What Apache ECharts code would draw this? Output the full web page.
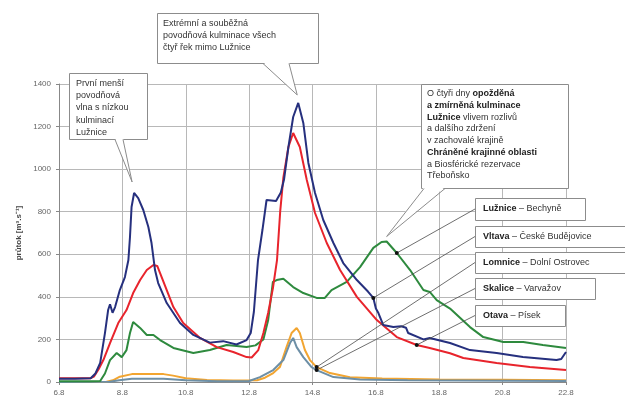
<!DOCTYPE html>
<html><head><meta charset="utf-8">
<script src="https://cdn.jsdelivr.net/npm/echarts@6/dist/echarts.min.js"></script>
<style>html,body{margin:0;padding:0;background:#fff}#c{width:625px;height:401px}</style>
</head><body><div id="c"></div>
<script>
// ---- data (day of August, discharge m3/s) ----
const xTickLabels = ['6.8','8.8','10.8','12.8','14.8','16.8','18.8','20.8','22.8'];
const yTicks = [0,200,400,600,800,1000,1200,1400];

const luznice = [[6.0,3],[7.0,3],[7.3,5],[7.45,40],[7.61,103],[7.82,136],[7.98,117],[8.13,150],[8.24,230],[8.34,282],[8.56,254],[8.77,221],[8.98,221],[9.19,197],[9.61,160],[10.24,136],[10.76,150],[11.29,174],[11.92,164],[12.2,172],[12.45,200],[12.6,290],[12.75,470],[12.87,479],[13.08,485],[13.39,446],[13.71,418],[14.13,395],[14.39,395],[14.6,432],[15.08,470],[15.5,540],[15.92,630],[16.18,658],[16.34,660],[16.66,606],[17.08,526],[17.5,432],[17.7,423],[17.92,385],[18.34,345],[18.97,258],[19.39,211],[20.02,188],[20.65,188],[21.27,174],[22.0,160]];

const vltava = [[6.0,15],[6.5,15],[7.0,18],[7.15,40],[7.3,90],[7.45,230],[7.55,338],[7.61,365],[7.69,325],[7.77,352],[7.92,432],[8.08,493],[8.19,573],[8.24,681],[8.29,822],[8.37,888],[8.5,864],[8.66,808],[8.82,728],[8.92,653],[9.03,526],[9.13,465],[9.4,371],[9.82,277],[10.24,221],[10.76,185],[11.18,192],[11.6,176],[11.92,197],[12.05,230],[12.15,330],[12.28,573],[12.42,714],[12.55,855],[12.85,850],[13.0,890],[13.1,950],[13.24,1104],[13.39,1245],[13.55,1311],[13.71,1217],[13.87,1029],[14.08,888],[14.34,761],[14.66,653],[14.97,559],[15.4,479],[15.75,425],[15.92,395],[16.0,345],[16.08,324],[16.23,268],[16.55,258],[16.8,262],[16.95,255],[17.02,230],[17.5,200],[17.7,207],[18.34,183],[18.97,150],[19.81,136],[20.64,117],[21.7,103],[21.85,108],[22.0,141]];

const otava = [[6.0,18],[6.5,18],[7.0,18],[7.1,25],[7.25,60],[7.4,103],[7.61,183],[7.87,277],[8.13,338],[8.34,418],[8.56,479],[8.77,526],[8.98,550],[9.1,545],[9.19,512],[9.4,432],[9.61,352],[9.92,277],[10.45,207],[10.98,164],[11.5,141],[11.92,117],[12.08,115],[12.29,150],[12.45,230],[12.6,324],[12.75,440],[12.88,573],[12.98,800],[13.08,960],[13.24,1104],[13.39,1170],[13.45,1172],[13.6,1104],[13.82,949],[14.08,794],[14.45,653],[14.87,526],[15.4,400],[16.03,291],[16.66,211],[17.29,174],[17.7,160],[18.34,135],[18.76,113],[19.81,89],[20.86,70],[22.0,56]];

const lomnice = [[6.0,0],[7.5,1],[7.7,8],[7.92,25],[8.3,37],[8.8,38],[9.3,37],[9.6,30],[10.0,18],[10.67,9],[11.5,7],[12.25,8],[12.5,20],[12.76,42],[12.97,70],[13.18,164],[13.34,230],[13.5,254],[13.6,230],[13.76,150],[13.92,103],[14.13,70],[14.55,42],[15.18,22],[16.2,16],[18.0,12],[20.0,10],[22.0,8]];

const skalice = [[6.0,0],[7.6,1],[7.9,8],[8.3,15],[9.3,15],[10.0,8],[11.0,4],[12.0,5],[12.34,23],[12.76,56],[13.08,103],[13.29,183],[13.39,207],[13.5,164],[13.71,117],[13.97,70],[14.13,56],[14.66,23],[15.5,12],[17.0,8],[22.0,5]];

const FONT = 'Liberation Sans, Arial, sans-serif';
const chart = echarts.init(document.getElementById('c'), null, {renderer:'canvas'});

function line(name, data, color, z) {
  return {name, type:'line', data, showSymbol:false, symbol:'none', z,
    lineStyle:{color, width:2}, itemStyle:{color}, animation:false};
}

chart.setOption({
  animation:false,
  backgroundColor:'#fff',
  grid:{left:59, right:59, top:84, bottom:19, containLabel:false},
  xAxis:{type:'value', min:6, max:22, interval:2,
    axisLine:{lineStyle:{color:'#888'}}, axisTick:{show:true, length:3, lineStyle:{color:'#888'}},
    axisLabel:{fontSize:8, color:'#666', fontFamily:FONT, margin:7,
      formatter:v => xTickLabels[Math.round((v-6)/2)]},
    splitLine:{show:true, lineStyle:{color:'#b8b8b8', width:1}}},
  yAxis:{type:'value', min:yTicks[0], max:yTicks[yTicks.length-1], interval:200,
    name:'průtok [m³.s⁻¹]', nameLocation:'middle', nameGap:33, nameRotate:90,
    nameTextStyle:{fontSize:8, fontWeight:'bold', color:'#444', fontFamily:FONT},
    axisLine:{show:true, lineStyle:{color:'#888'}}, axisTick:{show:true, length:3, lineStyle:{color:'#888'}},
    axisLabel:{fontSize:8, color:'#666', fontFamily:FONT, margin:8, formatter:v => String(v)},
    splitLine:{show:true, lineStyle:{color:'#b8b8b8', width:1}}},
  series:[
    line('Lomnice – Dolní Ostrovec', lomnice, '#f2a531', 3),
    line('Skalice – Varvažov', skalice, '#6d8fa6', 4),
    line('Lužnice – Bechyně', luznice, '#2e8a3e', 5),
    line('Otava – Písek', otava, '#e8242c', 6),
    line('Vltava – České Budějovice', vltava, '#26307e', 7)
  ]
});

function px(pt){ return chart.convertToPixel({gridIndex:0}, pt); }
function nearest(data, d){ let b=data[0]; for(const p of data){ if(Math.abs(p[0]-d)<Math.abs(b[0]-d)) b=p; } return b; }
function peak(data, a, b){ let m=null; for(const p of data){ if(p[0]>=a&&p[0]<=b&&(!m||p[1]>m[1])) m=p; } return m; }

const G = [];
const STROKE = '#8c8c8c';
function callout(x,y,w,h,bl,br,tip){
  G.push({type:'rect', shape:{x:x+0.5,y:y+0.5,width:w,height:h}, style:{fill:'#fff', stroke:STROKE, lineWidth:1}, z:100});
  G.push({type:'polygon', shape:{points:[[bl,y+h-1],[tip[0],tip[1]],[br,y+h-1]]}, style:{fill:'#fff'}, z:101});
  G.push({type:'polyline', shape:{points:[[bl,y+h+0.5],[tip[0],tip[1]],[br,y+h+0.5]]}, style:{stroke:STROKE, lineWidth:1, fill:null}, z:102});
}
function txt(x,y,text,lh){
  G.push({type:'text', x, y, style:{text, font:'9px '+FONT, fill:'#333', lineHeight:lh, textVerticalAlign:'top'}, z:103});
}
const rich = {
  n:{fontSize:9, fontFamily:FONT, fill:'#333', color:'#333'},
  b:{fontSize:9, fontFamily:FONT, fontWeight:'bold', fill:'#222', color:'#222'}
};

// callout 1: first wave
const p1 = px(peak(vltava, 7.5, 9.5));
callout(69,73,78,66, 115,123, [p1[0]-2, p1[1]-11]);
txt(76,77,'První menší\npovodňová\nvlna s nízkou\nkulminací\nLužnice', 12.3);

// callout 2: extreme peak
const p2 = px(peak(vltava, 12, 15));
callout(157,13,161,50, 263,289, [p2[0]-1, p2[1]-8]);
txt(163,18,'Extrémní a souběžná\npovodňová kulminace všech\nčtyř řek mimo Lužnice', 12);

// callout 3: Lužnice delayed
const p3 = px(peak(luznice, 15, 18));
callout(421,84,147,104, 424,445, [p3[0], p3[1]-5]);
G.push({type:'text', x:427, y:88, z:103, style:{
  text:'{n|O čtyři dny }{b|opožděná}\n{b|a zmírněná kulminace}\n{b|Lužnice}{n| vlivem rozlivů}\n{n|a dalšího zdržení}\n{n|v zachovalé krajině}\n{b|Chráněné krajinné oblasti}\n{n|a Biosférické rezervace}\n{n|Třeboňsko}',
  font:'9px '+FONT, fill:'#333', lineHeight:11.7, textVerticalAlign:'top',
  rich:{n:Object.assign({lineHeight:11.7},rich.n), b:Object.assign({lineHeight:11.7},rich.b)}}});

// legend boxes with leader lines
const legendItems = [
  {river:'Lužnice', place:'Bechyně', data:luznice, day:16.7, box:[475,198,110,22]},
  {river:'Vltava', place:'České Budějovice', data:vltava, day:15.92, box:[475,226,152,21]},
  {river:'Lomnice', place:'Dolní Ostrovec', data:lomnice, day:14.13, box:[475,252,152,21]},
  {river:'Skalice', place:'Varvažov', data:skalice, day:14.1, box:[475,278,120,21]},
  {river:'Otava', place:'Písek', data:otava, day:17.29, box:[475,305,90,21]}
];
for(const it of legendItems){
  const [bx,by,bw,bh] = it.box;
  const p = px(nearest(it.data, it.day));
  G.push({type:'line', shape:{x1:bx, y1:by+bh/2, x2:p[0], y2:p[1]}, style:{stroke:'#4a4a4a', lineWidth:0.8}, z:60});
  G.push({type:'circle', shape:{cx:p[0], cy:p[1], r:2}, style:{fill:'#111'}, z:61});
  G.push({type:'rect', shape:{x:bx+0.5,y:by+0.5,width:bw,height:bh}, style:{fill:'#fff', stroke:STROKE, lineWidth:1}, z:100});
  G.push({type:'text', x:bx+8, y:by+bh/2, z:103, style:{
    text:'{b|'+it.river+'}{n| – '+it.place+'}', font:'9px '+FONT, fill:'#333', textVerticalAlign:'middle', rich}});
}
chart.setOption({graphic:G});
</script></body></html>
